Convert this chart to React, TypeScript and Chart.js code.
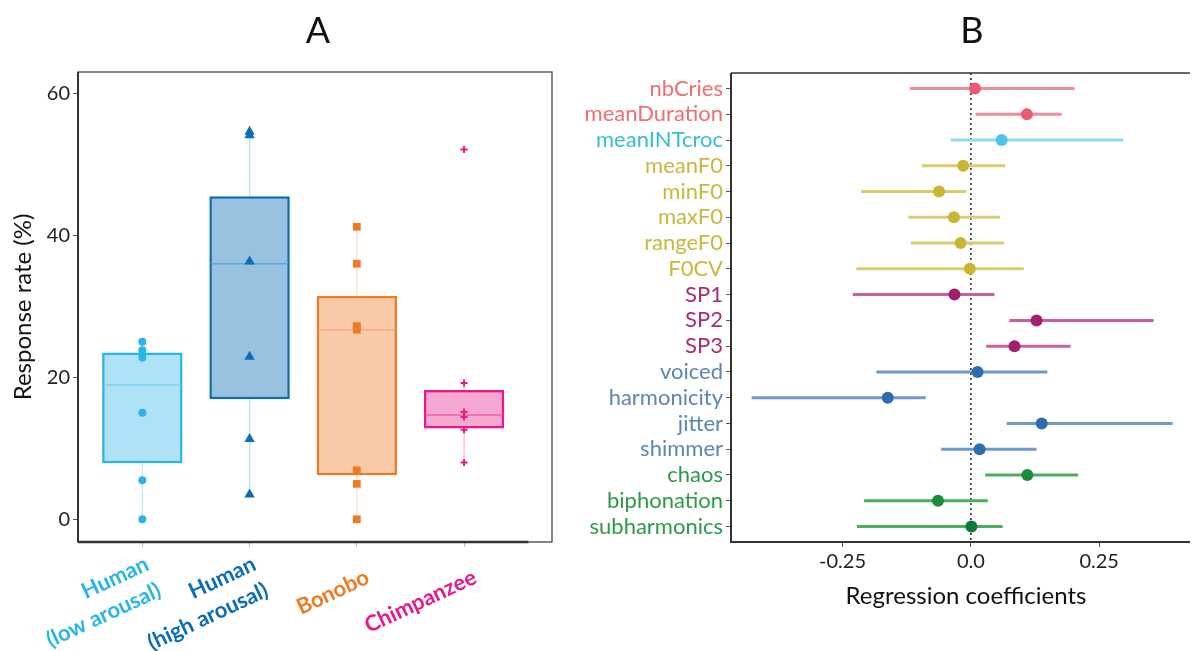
import React, { useEffect, useRef } from "react";
import { Chart, registerables } from "chart.js";
Chart.register(...registerables);

const FONT = "Lato";

// ---------- Panel A data ----------
const groupLabels = [["Human", "(low arousal)"], ["Human", "(high arousal)"], ["Bonobo"], ["Chimpanzee"]];
const groupColors = ["#2AB5EA", "#0B6DB7", "#F07A24", "#E8178A"];
const groupFills = ["rgba(42,181,234,0.38)", "rgba(11,109,183,0.42)", "rgba(240,122,36,0.40)", "rgba(232,23,138,0.38)"];
const medianColors = ["#7ED0F1", "#5EA6D8", "#F4A882", "#EC5FA5"];
const whiskerColors = ["#BFE6F7", "#B9DDF3", "#FBDCCB", "#F5B8D5"];
const boxQ1 = [7.9, 16.9, 6.2, 12.8];
const boxMedian = [18.9, 36.0, 26.7, 14.7];
const boxQ3 = [23.5, 45.5, 31.5, 18.2];
const whiskerLow = [0, 3.5, 0, 8.0];
const whiskerHigh = [25.0, 54.6, 41.2, 19.2];
const humanLowPoints = [0, 5.5, 15.0, 22.8, 23.8, 25.0];
const humanHighPoints = [3.5, 11.3, 22.9, 36.3, 54.1, 54.6];
const bonoboPoints = [0, 5.0, 6.9, 26.7, 27.2, 36.0, 41.2];
const chimpPoints = [8.0, 12.6, 14.4, 15.1, 19.2, 52.1];
const groupPoints = [humanLowPoints, humanHighPoints, bonoboPoints, chimpPoints];
const pointStyles = ["circle", "triangle", "rect", "cross"];
const pointRadii = [4, 6, 5.5, 3.5];
const yTicksA = [0, 20, 40, 60];

// ---------- Panel B data ----------
const features = ["nbCries", "meanDuration", "meanINTcroc", "meanF0", "minF0", "maxF0", "rangeF0", "F0CV", "SP1", "SP2", "SP3", "voiced", "harmonicity", "jitter", "shimmer", "chaos", "biphonation", "subharmonics"];
const coef = [0.008, 0.109, 0.060, -0.015, -0.062, -0.033, -0.020, -0.002, -0.032, 0.128, 0.085, 0.013, -0.162, 0.138, 0.017, 0.110, -0.064, 0.001];
const ciLow = [-0.119, 0.009, -0.039, -0.095, -0.214, -0.122, -0.117, -0.223, -0.230, 0.075, 0.030, -0.184, -0.427, 0.070, -0.058, 0.028, -0.208, -0.222];
const ciHigh = [0.202, 0.177, 0.297, 0.067, -0.009, 0.057, 0.065, 0.103, 0.046, 0.356, 0.194, 0.149, -0.088, 0.393, 0.128, 0.209, 0.033, 0.062];
const labelColors = ["#F26D6D", "#F26D6D", "#36BFCF", "#C8B83C", "#C8B83C", "#C8B83C", "#C8B83C", "#C8B83C", "#A82A7C", "#A82A7C", "#A82A7C", "#5A86B4", "#5A86B4", "#5A86B4", "#5A86B4", "#2A9A48", "#2A9A48", "#2A9A48"];
const pointColors = ["#EA5A72", "#EA5A72", "#4CC4EE", "#C9B531", "#C9B531", "#C9B531", "#C9B531", "#C9B531", "#A0206E", "#A0206E", "#A0206E", "#2D6DAE", "#2D6DAE", "#2D6DAE", "#2D6DAE", "#1A8C3A", "#1A8C3A", "#0E7A3A"];
const lineColors = ["#F28C9C", "#F28C9C", "#8ED8F4", "#D8CC6E", "#D8CC6E", "#D8CC6E", "#D8CC6E", "#D8CC6E", "#C8609F", "#C8609F", "#C8609F", "#6E9ACB", "#6E9ACB", "#6E9ACB", "#6E9ACB", "#4CAD5E", "#4CAD5E", "#4CAD5E"];
const xTicksB = [-0.25, 0, 0.25];

function buildConfigA(): any {
  const datasets: any[] = [];
  datasets.push({
    type: "bar",
    data: groupLabels.map((_, i) => ({ x: i + 1, y: [boxQ1[i], boxQ3[i]] })),
    backgroundColor: groupFills,
    borderColor: groupColors,
    borderWidth: 2.5,
    borderSkipped: false,
    barPercentage: 0.75,
    categoryPercentage: 1,
    order: 3,
  });
  groupLabels.forEach((_, i) => {
    const c = i + 1;
    datasets.push({
      type: "line",
      data: [{ x: c, y: whiskerLow[i] }, { x: c, y: boxQ1[i] }],
      borderColor: whiskerColors[i], borderWidth: 1.2, pointRadius: 0, order: 4,
    });
    datasets.push({
      type: "line",
      data: [{ x: c, y: boxQ3[i] }, { x: c, y: whiskerHigh[i] }],
      borderColor: whiskerColors[i], borderWidth: 1.2, pointRadius: 0, order: 4,
    });
    datasets.push({
      type: "line",
      data: [{ x: c - 0.36, y: boxMedian[i] }, { x: c + 0.36, y: boxMedian[i] }],
      borderColor: medianColors[i], borderWidth: 1.5, pointRadius: 0, order: 2,
    });
    datasets.push({
      type: "line",
      showLine: false,
      data: groupPoints[i].map((v) => ({ x: c, y: v })),
      pointStyle: pointStyles[i],
      pointRadius: pointRadii[i],
      pointBackgroundColor: groupColors[i],
      pointBorderColor: groupColors[i],
      pointBorderWidth: i === 3 ? 2 : 0,
      order: 1,
    });
  });

  const decor = {
    id: "decorA",
    afterDatasetsDraw(chart: any) {
      const { ctx, chartArea: ca, scales } = chart;
      ctx.save();
      ctx.strokeStyle = "#444";
      ctx.lineWidth = 1.3;
      ctx.strokeRect(ca.left, ca.top, ca.right - ca.left, ca.bottom - ca.top);
      ctx.strokeStyle = "#333";
      ctx.lineWidth = 2;
      ctx.beginPath();
      ctx.moveTo(ca.left, ca.top);
      ctx.lineTo(ca.left, ca.bottom);
      ctx.stroke();
      ctx.lineWidth = 2.5;
      ctx.beginPath();
      ctx.moveTo(ca.left, ca.bottom);
      ctx.lineTo(scales.x.getPixelForValue(4.6), ca.bottom);
      ctx.stroke();
      ctx.restore();
    },
    afterDraw(chart: any) {
      const { ctx, scales } = chart;
      ctx.save();
      ctx.fillStyle = "#111";
      ctx.font = `36px ${FONT}`;
      ctx.textAlign = "center";
      ctx.textBaseline = "middle";
      ctx.fillText("A", 318, 31);
      ctx.save();
      ctx.translate(23, 307);
      ctx.rotate(-Math.PI / 2);
      ctx.font = `24px ${FONT}`;
      ctx.fillStyle = "#111";
      ctx.fillText("Response rate (%)", 0, 0);
      ctx.restore();
      const ang = (25 * Math.PI) / 180;
      groupLabels.forEach((lines, i) => {
        const px = scales.x.getPixelForValue(i + 1);
        ctx.save();
        ctx.translate(px + 11, 576);
        ctx.rotate(-ang);
        ctx.font = `bold 22px ${FONT}`;
        ctx.fillStyle = groupColors[i];
        ctx.textAlign = "right";
        ctx.textBaseline = "middle";
        const n = lines.length;
        lines.forEach((t, j) => ctx.fillText(t, 0, (j - (n - 1) / 2) * 29));
        ctx.restore();
      });
      ctx.restore();
    },
  };

  return {
    type: "bar",
    data: { datasets },
    plugins: [decor],
    options: {
      animation: false,
      responsive: true,
      maintainAspectRatio: false,
      layout: { padding: { top: 72, right: 28, bottom: 0, left: 0 } },
      plugins: { legend: { display: false }, tooltip: { enabled: false } },
      scales: {
        x: {
          type: "linear",
          min: 0.4,
          max: 4.82,
          offset: false,
          afterBuildTicks: (s: any) => { s.ticks = [1, 2, 3, 4].map((v) => ({ value: v })); },
          afterFit: (s: any) => { s.height = 109; },
          ticks: { display: false },
          grid: { offset: false, drawOnChartArea: false, drawTicks: true, tickLength: 5, color: "#bbb" },
          border: { display: false },
        },
        y: {
          type: "linear",
          min: -3.2,
          max: 63,
          afterBuildTicks: (s: any) => { s.ticks = yTicksA.map((v) => ({ value: v })); },
          afterFit: (s: any) => { s.width = 78; },
          ticks: { font: { family: FONT, size: 20 }, color: "#222", padding: 3 },
          grid: { drawOnChartArea: false, tickLength: 5, color: "#555" },
          border: { display: false },
        },
      },
    },
  };
}

function buildConfigB(): any {
  const datasets: any[] = [];
  datasets.push({
    data: [{ x: 0, y: 0.4 }, { x: 0, y: 18.6 }],
    showLine: true,
    borderColor: "#222",
    borderWidth: 1.5,
    borderDash: [2, 3],
    pointRadius: 0,
    order: 3,
  });
  features.forEach((_, i) => {
    datasets.push({
      data: [{ x: ciLow[i], y: i + 1 }, { x: ciHigh[i], y: i + 1 }],
      showLine: true,
      borderColor: lineColors[i],
      borderWidth: 3,
      pointRadius: 0,
      order: 2,
    });
  });
  datasets.push({
    data: coef.map((v, i) => ({ x: v, y: i + 1 })),
    showLine: false,
    pointRadius: 6,
    pointBackgroundColor: pointColors,
    pointBorderWidth: 0,
    order: 1,
  });

  const decor = {
    id: "decorB",
    afterDatasetsDraw(chart: any) {
      const { ctx, chartArea: ca } = chart;
      ctx.save();
      ctx.strokeStyle = "#333";
      ctx.lineWidth = 1.5;
      ctx.beginPath();
      ctx.moveTo(ca.left, ca.top);
      ctx.lineTo(ca.right, ca.top);
      ctx.stroke();
      ctx.lineWidth = 2;
      ctx.beginPath();
      ctx.moveTo(ca.left, ca.top);
      ctx.lineTo(ca.left, ca.bottom);
      ctx.lineTo(ca.right, ca.bottom);
      ctx.stroke();
      ctx.restore();
    },
    afterDraw(chart: any) {
      const { ctx } = chart;
      ctx.save();
      ctx.fillStyle = "#111";
      ctx.textAlign = "center";
      ctx.textBaseline = "middle";
      ctx.font = `36px ${FONT}`;
      ctx.fillText("B", 392, 31);
      ctx.font = `24px ${FONT}`;
      ctx.fillText("Regression coefficients", 386, 596);
      ctx.restore();
    },
  };

  return {
    type: "scatter",
    data: { datasets },
    plugins: [decor],
    options: {
      animation: false,
      responsive: true,
      maintainAspectRatio: false,
      layout: { padding: { top: 73, right: 0, bottom: 0, left: 0 } },
      plugins: { legend: { display: false }, tooltip: { enabled: false } },
      scales: {
        x: {
          type: "linear",
          min: -0.4673,
          max: 0.4269,
          afterBuildTicks: (s: any) => { s.ticks = xTicksB.map((v) => ({ value: v })); },
          afterFit: (s: any) => { s.height = 109; },
          ticks: {
            font: { family: FONT, size: 20 },
            color: "#222",
            padding: 3,
            autoSkip: false,
            callback: (v: number) => (v === 0 ? "0.0" : String(v)),
          },
          grid: { drawOnChartArea: false, tickLength: 5, color: "#555" },
          border: { display: false },
        },
        y: {
          type: "linear",
          reverse: true,
          min: 0.4,
          max: 18.6,
          afterBuildTicks: (s: any) => { s.ticks = features.map((_, i) => ({ value: i + 1 })); },
          afterFit: (s: any) => { s.width = 151; },
          ticks: {
            font: { family: FONT, size: 22 },
            padding: 3,
            autoSkip: false,
            color: (c: any) => labelColors[Math.round(c.tick.value) - 1] || "#222",
            callback: (v: number) => features[Math.round(v) - 1],
          },
          grid: { drawOnChartArea: false, tickLength: 5, color: "#555" },
          border: { display: false },
        },
      },
    },
  };
}

export default function App() {
  const refA = useRef<HTMLCanvasElement>(null);
  const refB = useRef<HTMLCanvasElement>(null);
  useEffect(() => {
    const a = new Chart(refA.current as HTMLCanvasElement, buildConfigA());
    const b = new Chart(refB.current as HTMLCanvasElement, buildConfigB());
    return () => {
      a.destroy();
      b.destroy();
    };
  }, []);
  return (
    <div style={{ position: "absolute", left: 0, top: 0, width: 1196, height: 651, background: "#fff", overflow: "hidden" }}>
      <div style={{ position: "absolute", left: 0, top: 0, width: 580, height: 651 }}>
        <canvas ref={refA} />
      </div>
      <div style={{ position: "absolute", left: 580, top: 0, width: 616, height: 651 }}>
        <canvas ref={refB} />
      </div>
    </div>
  );
}
